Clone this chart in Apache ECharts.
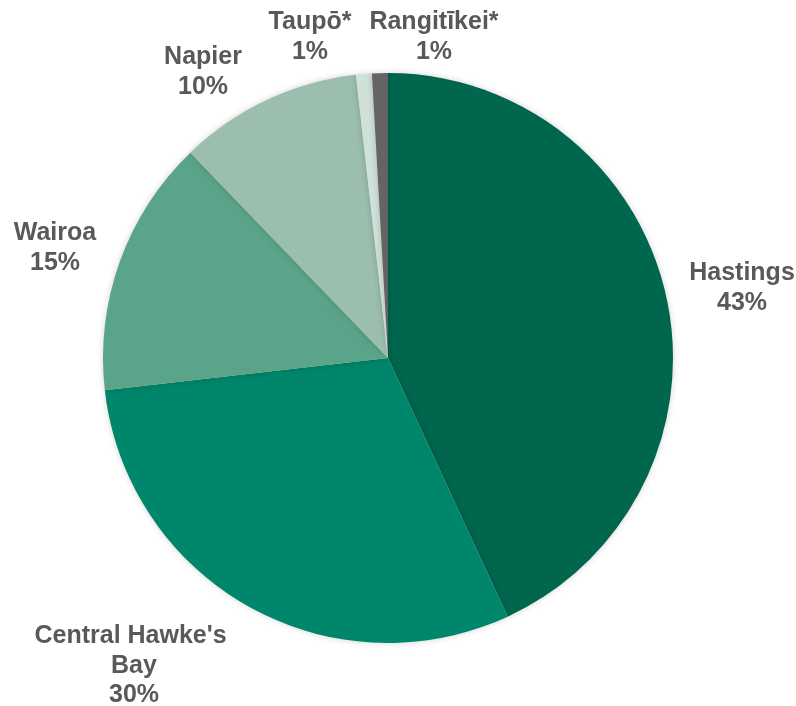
<!DOCTYPE html>
<html>
<head>
<meta charset="utf-8">
<script src="https://cdn.jsdelivr.net/npm/echarts@6/dist/echarts.min.js"></script>
<style>
  html, body { margin: 0; padding: 0; background: #fff; }
  #chart { width: 796px; height: 706px; }
</style>
</head>
<body>
<div id="chart"></div>
<script>
// districts, clockwise from 12 o'clock
const districts = ['Hastings', "Central Hawke's Bay", 'Wairoa', 'Napier', 'Taupō*', 'Rangitīkei*']
const shares = [43.1, 30.1, 14.6, 10.4, 0.9, 0.9]
const colors = ['#00664e', '#00866a', '#5aa48a', '#9bbeae', '#cfe1d8', '#646464']
// where Excel put each label (centre of text block)
const labelSpots = [[742, 288], [134, 666], [55, 248], [203, 72], [310, 37], [434, 37]]

const mychart = echarts.init(document.getElementById('chart'))

const option = {
    animation: false,
    series: [
        {
            type: 'pie',
            center: [388, 358],
            radius: 285,
            startAngle: 90,
            clockwise: true,
            avoidLabelOverlap: false,
            data: districts.map((name, i) => ({
                name: name,
                value: shares[i],
                itemStyle: { color: colors[i] }
            })),
            itemStyle: {
                borderWidth: 0,
                shadowBlur: 6,
                shadowColor: 'rgba(0, 0, 0, 0.18)'
            },
            label: {
                show: true,
                position: 'outside',
                formatter: p => p.name + '\n' + Math.round(p.percent) + '%',
                color: '#595959',
                fontFamily: 'Liberation Sans, Arial, sans-serif',
                fontWeight: 'bold',
                fontSize: 25,
                lineHeight: 29.5,
                width: 220,
                overflow: 'break',
                align: 'center'
            },
            labelLine: { show: false },
            labelLayout: params => ({
                x: labelSpots[params.dataIndex][0],
                y: labelSpots[params.dataIndex][1],
                align: 'center',
                verticalAlign: 'middle'
            })
        }
    ]
}

mychart.setOption(option)
</script>
</body>
</html>
